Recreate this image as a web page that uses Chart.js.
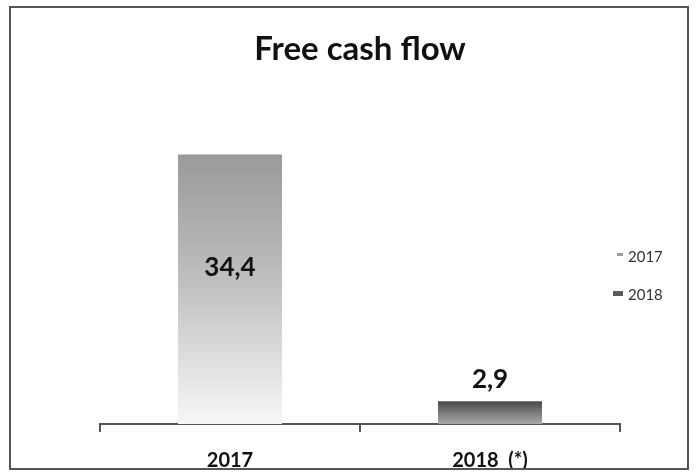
<!DOCTYPE html>
<html>
<head>
<meta charset="utf-8">
<script src="https://cdn.jsdelivr.net/npm/chart.js@4/dist/chart.umd.min.js"></script>
<style>
  html, body { margin: 0; padding: 0; background: #fff; }
  #wrap { position: relative; width: 696px; height: 475px; }
</style>
</head>
<body>
<div id="wrap"><canvas id="chart" width="696" height="475"></canvas></div>
<script>
// -------------------------------
// Data
// -------------------------------
const categories = ["2017", "2018"];
const tickLabels = ["2017", "2018  (*)"];
const values = [34.4, 2.9];
const valueLabels = ["34,4", "2,9"];

const FONT = "Lato, 'Open Sans', sans-serif";

// gradient per bar, built from the bar's own pixel extent
function barFill(ctx) {
  const chart = ctx.chart;
  const area = chart.chartArea;
  if (!area) return "#bbb";
  const y = chart.scales.y;
  const top = y.getPixelForValue(values[ctx.dataIndex]);
  const bottom = y.getPixelForValue(0);
  const g = chart.ctx.createLinearGradient(0, top, 0, bottom);
  if (ctx.dataIndex === 0) {
    g.addColorStop(0, "#9a9a9a");
    g.addColorStop(0.45, "#bdbdbd");
    g.addColorStop(1, "#f7f7f7");
  } else {
    g.addColorStop(0, "#4a4a4a");
    g.addColorStop(0.5, "#7a7a7a");
    g.addColorStop(1, "#a8a8a8");
  }
  return g;
}

// frame, value labels and legend
const extras = {
  id: "extras",
  afterDraw(chart) {
    const c = chart.ctx;
    c.save();
    // outer frame
    c.strokeStyle = "#555";
    c.lineWidth = 2;
    c.strokeRect(10, 7, 678, 462);

    // value labels
    const meta = chart.getDatasetMeta(0);
    c.fillStyle = "#111";
    c.font = "bold 26px " + FONT;
    c.textAlign = "center";
    c.textBaseline = "middle";
    meta.data.forEach((bar, i) => {
      const yPos = i === 0 ? 268 : bar.y - 22;
      c.fillText(valueLabels[i], bar.x, yPos);
    });

    // legend
    c.font = "15px " + FONT;
    c.textAlign = "left";
    const legendY = [256, 294];
    const markColors = ["#9a9a9a", "#5a5a5a"];
    categories.forEach((cat, i) => {
      c.fillStyle = markColors[i];
      if (i === 0) c.fillRect(617, legendY[i] - 3, 6, 3);
      else c.fillRect(613, legendY[i] - 3, 10, 5);
      c.fillStyle = "#333";
      c.fillText(cat, 628, legendY[i] + 1);
    });
    c.restore();
  },
};

new Chart(document.getElementById("chart"), {
  type: "bar",
  data: {
    labels: tickLabels,
    datasets: [
      {
        label: "Free cash flow",
        data: values,
        backgroundColor: barFill,
        borderWidth: 0,
        categoryPercentage: 1,
        barPercentage: 0.4,
      },
    ],
  },
  options: {
    responsive: false,
    animation: false,
    layout: { padding: { left: 100, right: 76, top: 0, bottom: -15 } },
    plugins: {
      legend: { display: false },
      tooltip: { enabled: false },
      title: {
        display: true,
        text: "Free cash flow",
        color: "#111",
        font: { family: FONT, size: 33, weight: "bold" },
        padding: { top: 30, bottom: 41 },
      },
    },
    scales: {
      x: {
        offset: true,
        border: { display: true, color: "#555", width: 2 },
        grid: {
          display: true,
          offset: true,
          drawOnChartArea: false,
          drawTicks: true,
          tickLength: 8,
          color: "#555",
          lineWidth: 2,
        },
        ticks: {
          color: "#111",
          padding: 17,
          font: { family: FONT, size: 20, weight: "bold" },
        },
      },
      y: {
        display: false,
        min: 0,
        max: 40,
      },
    },
  },
  plugins: [extras],
});
</script>
</body>
</html>
